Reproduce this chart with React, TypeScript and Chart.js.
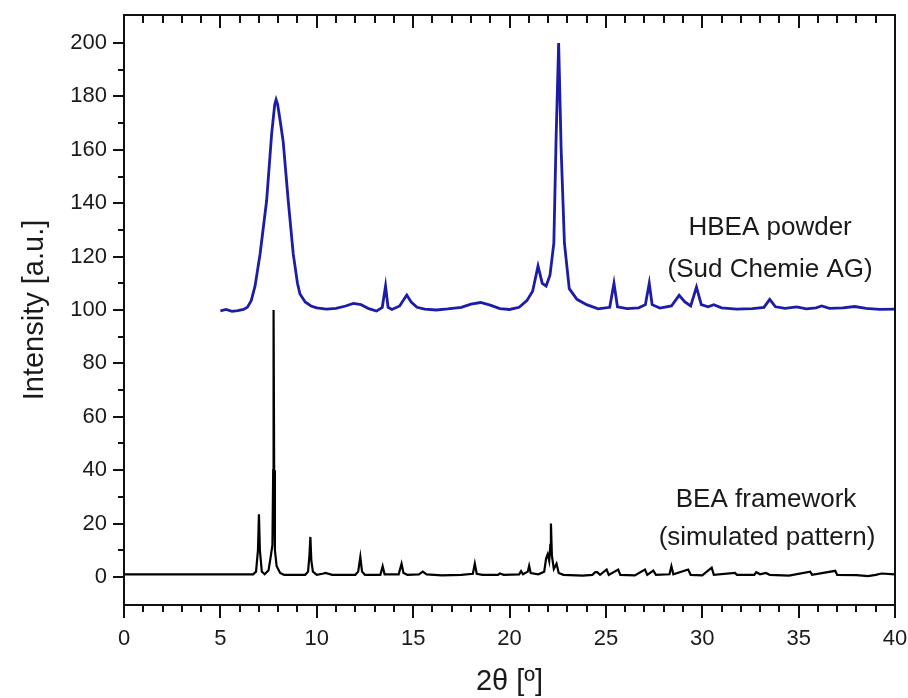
import React, { useEffect, useRef } from "react";
import { Chart, registerables } from "chart.js";

Chart.register(...registerables);

// ---- data ----
const beaTheta = [
  0, 6.7, 6.85, 6.95, 7.0, 7.05, 7.15, 7.3, 7.5, 7.62, 7.7, 7.74, 7.76, 7.79, 7.83, 7.92, 8.1, 8.3,
  9.4, 9.55, 9.62, 9.67, 9.72, 9.8, 10.0, 10.3, 10.45, 10.8, 12.0, 12.15, 12.26, 12.35, 12.5,
  13.3, 13.42, 13.52, 14.25, 14.4, 14.5, 14.7, 15.3, 15.5, 15.7, 16.5, 17.5, 18.1, 18.2, 18.3, 18.6,
  19.4, 19.5, 19.7, 20.5, 20.6, 20.7, 20.95, 21.02, 21.1, 21.5, 21.8, 21.9, 21.98, 22.06, 22.12,
  22.15, 22.2, 22.3, 22.44, 22.55, 22.8, 23.8, 24.3, 24.45, 24.55, 24.7, 25.04, 25.15, 25.64, 25.75,
  26.5, 27.03, 27.15, 27.46, 27.6, 28.3, 28.4, 28.5, 29.27, 29.4, 30.0, 30.49, 30.6, 31.7, 31.8,
  32.7, 32.8, 33.0, 33.3, 33.5, 34.5, 35.6, 35.7, 36.9, 37.0, 38.0, 38.6, 39.0, 39.3, 40,
];
const beaIntensity = [
  1, 1, 2, 10, 23.5, 10, 2, 1, 2.5, 8, 12, 40, 100, 40, 10, 4, 1.5, 0.8,
  0.8, 2, 8, 15, 6, 2, 0.8, 1.2, 1.5, 0.8, 0.8, 2, 7.5, 2, 0.8,
  0.8, 4, 1, 1, 5, 1.5, 0.8, 1, 2, 1, 0.6, 0.8, 1.2, 5, 1.2, 0.8,
  0.8, 1.3, 0.8, 1, 2.2, 1, 2, 4.2, 1.5, 1, 2, 7, 8.5, 6, 12,
  20, 8, 3, 5, 1.5, 0.8, 0.5, 0.8, 1.8, 1.8, 0.8, 2.8, 0.8, 2.8, 0.8,
  0.6, 2.8, 0.8, 2.4, 0.8, 1, 4, 1, 2.8, 0.8, 0.6, 3.5, 0.8, 1.5, 0.8,
  0.8, 1.8, 1, 1.5, 0.8, 0.5, 2, 0.8, 2.3, 0.8, 0.7, 0.3, 0.8, 1.3, 1,
];

const hbeaTheta = [
  5.0, 5.3, 5.6, 5.9, 6.2, 6.4, 6.6, 6.8, 7.06, 7.4, 7.66, 7.82, 7.89, 7.97, 8.1, 8.26, 8.52, 8.78,
  9.0, 9.13, 9.4, 9.7, 10.0, 10.5, 11.0, 11.5, 11.9, 12.3, 12.7, 13.1, 13.4, 13.57, 13.7, 13.9,
  14.3, 14.67, 14.9, 15.2, 15.6, 16.2, 16.8, 17.5, 18.0, 18.5, 19.0, 19.5, 20.0, 20.5, 20.9, 21.2,
  21.48, 21.7, 21.9, 22.1, 22.3, 22.42, 22.55, 22.68, 22.85, 23.1, 23.5, 24.0, 24.6, 25.2, 25.42,
  25.6, 26.1, 26.7, 27.05, 27.25, 27.4, 27.8, 28.4, 28.8, 29.1, 29.4, 29.7, 29.95, 30.3, 30.6, 31.0,
  31.8, 32.6, 33.2, 33.5, 33.8, 34.3, 34.9, 35.4, 35.9, 36.2, 36.6, 37.3, 37.9, 38.5, 39.2, 40,
];
const hbeaIntensity = [
  99.7, 100.2, 99.5, 99.8, 100.2, 101, 103.5, 109, 121, 141, 166, 177, 178.8, 177, 171, 163, 141, 121,
  110, 106, 103, 101.5, 100.8, 100.3, 100.6, 101.5, 102.5, 102, 100.5, 99.6, 101, 109, 101, 100.2,
  101.5, 105.6, 103, 101, 100.3, 100, 100.4, 101, 102.2, 102.8, 101.8, 100.5, 100.2, 101, 103.5, 107,
  116.5, 110, 109, 113, 125, 165, 200, 160, 125, 108, 104, 102, 100.4, 101, 110,
  101.2, 100.5, 100.8, 102, 110, 102, 100.7, 101.5, 105.5, 103, 101.5, 108.6, 102, 101.2, 102, 100.8,
  100.3, 100.5, 101, 104, 101.2, 100.6, 101.2, 100.4, 100.8, 101.5, 100.6, 100.8, 101.3, 100.6, 100.2, 100.3,
];

const xTickLabels = [0, 5, 10, 15, 20, 25, 30, 35, 40];
const yTickLabels = [0, 20, 40, 60, 80, 100, 120, 140, 160, 180, 200];

const annotations = [
  { text: "HBEA powder", x: 33.52, y: 128.1 },
  { text: "(Sud Chemie AG)", x: 33.52, y: 112.5 },
  { text: "BEA framework", x: 33.31, y: 26.3 },
  { text: "(simulated pattern)", x: 33.36, y: 12.0 },
];

const FONT = "'Liberation Sans', Arial, Helvetica, sans-serif";
const INK = "#1a1a1a";

const zeroPadding = (s: any) => {
  s.paddingTop = 0;
  s.paddingBottom = 0;
  s.paddingLeft = 0;
  s.paddingRight = 0;
};

const framePlugin = {
  id: "frameTicks",
  afterDraw(chart: any) {
    const { ctx, chartArea, scales } = chart;
    const { left, right, top, bottom } = chartArea;
    const x = scales.x;
    const y = scales.y;
    ctx.save();
    ctx.strokeStyle = "#111";
    ctx.lineWidth = 2;
    ctx.strokeRect(left, top, right - left, bottom - top);
    ctx.lineWidth = 2;
    ctx.beginPath();
    for (let v = 0; v <= 40; v += 1) {
      const px = Math.round(x.getPixelForValue(v));
      const major = v % 5 === 0;
      ctx.moveTo(px, bottom);
      ctx.lineTo(px, bottom + (major ? 13 : 7));
      ctx.moveTo(px, top);
      ctx.lineTo(px, top + (major ? 13 : 8));
    }
    for (let v = 0; v <= 200; v += 10) {
      const py = Math.round(y.getPixelForValue(v));
      const major = v % 20 === 0;
      ctx.moveTo(left, py);
      ctx.lineTo(left - (major ? 11 : 6), py);
    }
    ctx.stroke();

    ctx.fillStyle = INK;
    ctx.font = `26px ${FONT}`;
    ctx.textAlign = "center";
    ctx.textBaseline = "alphabetic";
    for (const a of annotations) {
      ctx.fillText(a.text, x.getPixelForValue(a.x), y.getPixelForValue(a.y));
    }
    ctx.restore();
  },
};

export default function App() {
  const ref = useRef<HTMLCanvasElement | null>(null);

  useEffect(() => {
    if (!ref.current) return;
    const chart = new Chart(ref.current, {
      type: "line",
      data: {
        datasets: [
          {
            label: "BEA framework (simulated pattern)",
            data: beaTheta.map((t, i) => ({ x: t, y: beaIntensity[i] })),
            borderColor: "#000000",
            borderWidth: 2.2,
            pointRadius: 0,
            tension: 0,
            fill: false,
          },
          {
            label: "HBEA powder (Sud Chemie AG)",
            data: hbeaTheta.map((t, i) => ({ x: t, y: hbeaIntensity[i] })),
            borderColor: "#1c1ca6",
            borderWidth: 2.8,
            pointRadius: 0,
            tension: 0,
            fill: false,
          },
        ],
      },
      options: {
        animation: false,
        responsive: false,
        devicePixelRatio: 1,
        layout: { padding: { top: 15, right: 13, left: 0, bottom: 0 } },
        plugins: {
          legend: { display: false },
          tooltip: { enabled: false },
        },
        scales: {
          x: {
            type: "linear",
            position: "bottom",
            min: 0,
            max: 40,
            grid: { display: false, drawTicks: false },
            border: { display: false },
            afterBuildTicks: (s: any) => {
              s.ticks = xTickLabels.map((v) => ({ value: v }));
            },
            afterFit: (s: any) => {
              s.height = 93;
              zeroPadding(s);
            },
            ticks: {
              padding: 21,
              color: INK,
              font: { family: FONT, size: 22 },
              maxRotation: 0,
              autoSkip: false,
              callback: (v: any) => String(v),
            },
            title: {
              display: true,
              text: "2θ [º]",
              color: INK,
              font: { family: FONT, size: 29, lineHeight: 1.1 },
              padding: { top: 0, bottom: 0 },
            },
          },
          y: {
            type: "linear",
            min: -10.5,
            max: 210.5,
            grid: { display: false, drawTicks: false },
            border: { display: false },
            afterBuildTicks: (s: any) => {
              s.ticks = yTickLabels.map((v) => ({ value: v }));
            },
            afterFit: (s: any) => {
              s.width = 124;
              zeroPadding(s);
            },
            ticks: {
              padding: 17,
              color: INK,
              font: { family: FONT, size: 22 },
              autoSkip: false,
              callback: (v: any) => String(v),
            },
            title: {
              display: true,
              text: "Intensity [a.u.]",
              color: INK,
              font: { family: FONT, size: 29, lineHeight: 1.2 },
              padding: { top: 18, bottom: 0 },
            },
          },
        },
      },
      plugins: [framePlugin],
    });
    return () => chart.destroy();
  }, []);

  return (
    <div style={{ position: "absolute", left: 0, top: 0, width: 908, height: 698, background: "#ffffff" }}>
      <canvas ref={ref} width={908} height={698} style={{ width: 908, height: 698, display: "block" }} />
    </div>
  );
}
